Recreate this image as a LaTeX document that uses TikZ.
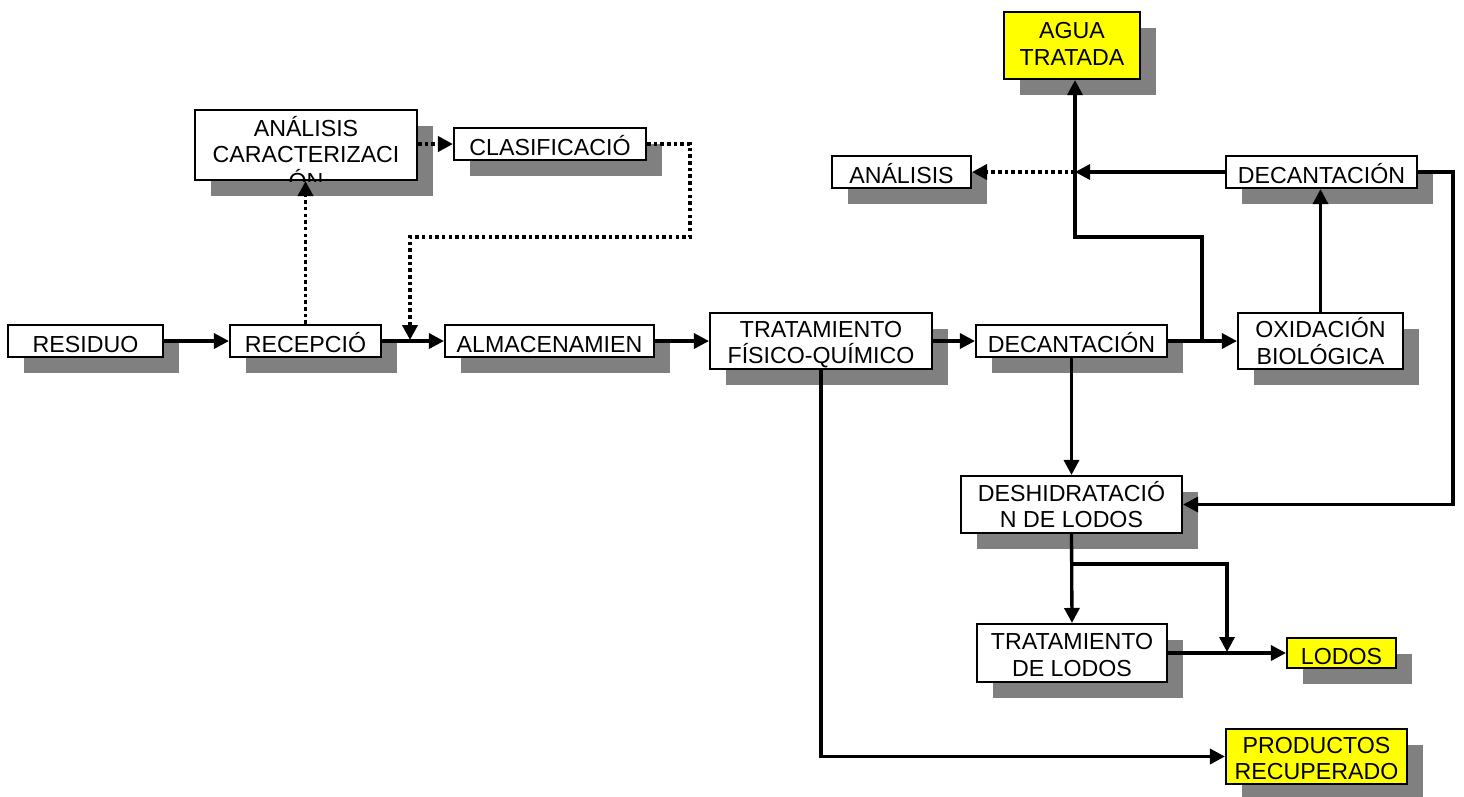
\documentclass[tikz,border=0pt]{standalone}
\usepackage{fontspec}
\setmainfont{Liberation Sans}
\usetikzlibrary{arrows.meta,shadows}
\definecolor{shade}{HTML}{808080}
\definecolor{hilite}{HTML}{FFFF00}
\newcommand{\boxfont}{\fontsize{13.2}{15.1}\selectfont}
\newcommand{\capstrut}{\rule{0pt}{0.46cm}}

\begin{document}
\begin{tikzpicture}[x=0.02cm,y=-0.02cm,
    box/.style={draw,line width=1.2pt,fill=white,inner sep=0pt,align=center,font=\boxfont,
      execute at begin node={\rule{0pt}{0.5cm}},
      execute at end node={\rule[-0.06cm]{0pt}{0.06cm}},
      drop shadow={shadow xshift=0.32cm,shadow yshift=-0.32cm,fill=shade,opacity=1}},
    outbox/.style={box,fill=hilite},
    flow/.style={line width=1.9pt,-{Triangle[length=0.3cm,width=0.3cm]}},
    dots/.style={flow,line width=2.2pt,dash pattern=on 2pt off 1.8pt}]
    \useasboundingbox (0,0) rectangle (1464,796);

    \node[box,minimum width=3.10cm,minimum height=0.64cm] (residuo) at (85.5,341) {RESIDUO};
    \node[box,minimum width=3.02cm,minimum height=0.64cm] (recepcion) at (305.5,341) {RECEPCIÓ};
    \node[box,minimum width=4.18cm,minimum height=0.64cm] (almacen) at (549.5,341) {ALMACENAMIEN};
    \node[box,minimum width=4.44cm,minimum height=1.12cm] (tratfq) at (821,341) {\capstrut TRATAMIENTO\\FÍSICO-QUÍMICO};
    \node[box,minimum width=3.82cm,minimum height=0.64cm] (decant) at (1071.5,341) {DECANTACIÓN};
    \node[box,minimum width=3.30cm,minimum height=1.12cm] (oxid) at (1320.5,341) {\capstrut OXIDACIÓN\\BIOLÓGICA};
    \node[box,minimum width=3.82cm,minimum height=0.64cm] (decantsup) at (1321.5,172) {DECANTACIÓN};
    \node[box,minimum width=2.78cm,minimum height=0.64cm] (analisis) at (901.5,172) {ANÁLISIS};
    \node[outbox,minimum width=2.72cm,minimum height=1.34cm,execute at begin node=\relax] (agua) at (1072,45.5) {AGUA\\TRATADA};
    \node[box,minimum width=4.44cm,minimum height=1.40cm] (analcar) at (306,145) {};
    \node[box,minimum width=3.84cm,minimum height=0.64cm] (clasif) at (550,144) {CLASIFICACIÓ};
    \node[box,minimum width=4.42cm,minimum height=1.14cm] (deshid) at (1071.5,504.5) {\capstrut DESHIDRATACIÓ\\N DE LODOS};
    \node[box,minimum width=3.80cm,minimum height=1.16cm] (tratlodos) at (1072,653) {\capstrut TRATAMIENTO\\DE LODOS};
    \node[outbox,minimum width=2.18cm,minimum height=0.60cm] (lodos) at (1341.5,653) {LODOS};
    \node[outbox,minimum width=3.62cm,minimum height=1.10cm] (productos) at (1316.5,756.5) {\capstrut PRODUCTOS\\RECUPERADO};

    \begin{scope}
      \clip (analcar.south west) rectangle (analcar.north east);
      \node[font=\boxfont,align=center,inner sep=0pt,yshift=-0.156cm] (analcartxt) at (analcar) {ANÁLISIS\\CARACTERIZACI\\ÓN};
    \end{scope}

    \coordinate (clasifturn) at (690,237);
    \coordinate (dropin) at (410,340);
    \coordinate (split) at (1202,341);
    \coordinate (riseturn) at (1075,237);
    \coordinate (backturn) at (1453,172);
    \coordinate (bypass) at (1072,564);
    \coordinate (lodosin) at (1227,652);

    \draw[flow] (residuo) -- (recepcion);
    \draw[flow] (recepcion) -- (almacen);
    \draw[flow] (almacen) -- (tratfq);
    \draw[flow] (tratfq) -- (decant);
    \draw[flow] (decant) -- (oxid);
    \draw[dots] (recepcion.north) -- (recepcion.north |- analcar.south);
    \draw[dots] (analcar.east |- clasif.west) -- (clasif.west);
    \draw[dots] (clasif.east) -| (clasifturn) -| (dropin);
    \draw[flow] (split) |- (riseturn) -- (riseturn |- agua.south);
    \draw[flow] (decantsup.west) -- (decantsup.west -| riseturn);
    \draw[dots] (decantsup.west -| riseturn) -- (analisis.east);
    \draw[flow] (oxid.north) -- (oxid.north |- decantsup.south);
    \draw[flow] (decantsup.east) -- (backturn) |- (deshid.east);
    \draw[flow] (decant.south) -- (deshid.north);
    \draw[flow] (deshid.south) -- (tratlodos.north);
    \draw[flow] (bypass) -| (lodosin);
    \draw[flow] (tratlodos.east) -- (lodos.west);
    \draw[flow] (tratfq.south) |- (productos.west);
  \end{tikzpicture}
\end{document}
